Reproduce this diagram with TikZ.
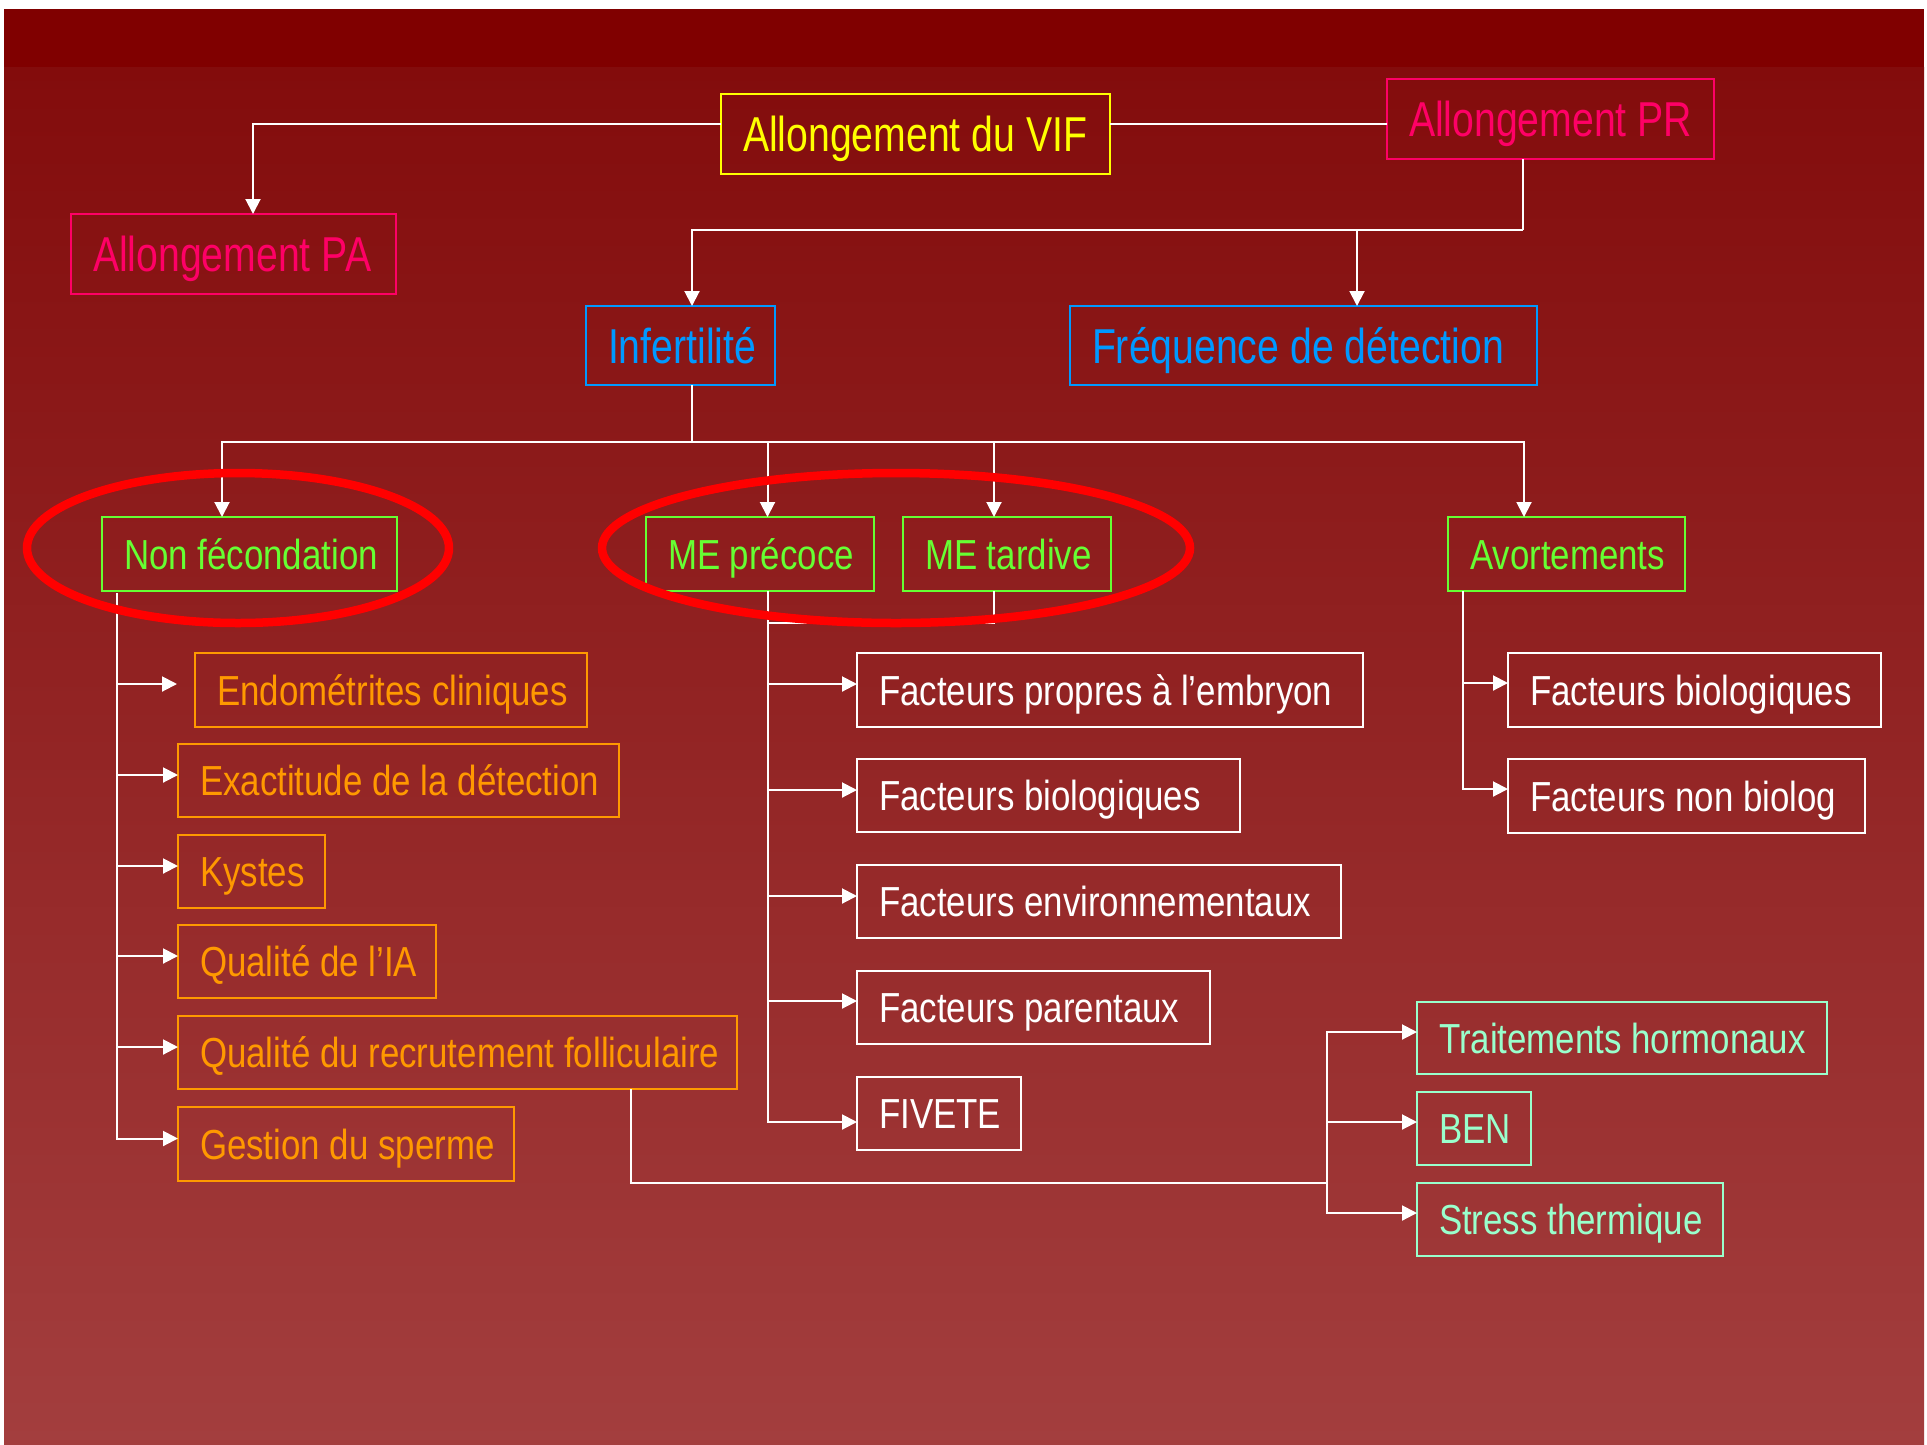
\documentclass[tikz,border=0pt]{standalone}
\usepackage{fontspec}
\setmainfont{Liberation Sans}[FakeStretch=0.83]
\newfontfamily\topfont{Liberation Sans}[FakeStretch=0.80]
\usetikzlibrary{arrows.meta}
\definecolor{bgband}{RGB}{128,0,0}
\definecolor{bgtop}{RGB}{131,12,12}
\definecolor{bgbot}{RGB}{163,62,62}
\definecolor{cyel}{RGB}{255,255,0}
\definecolor{cmag}{RGB}{255,0,102}
\definecolor{cblu}{RGB}{0,153,255}
\definecolor{cgrn}{RGB}{102,255,51}
\definecolor{corg}{RGB}{255,153,0}
\definecolor{cmnt}{RGB}{153,255,204}
\definecolor{cred}{RGB}{255,0,0}
\newcommand{\mybx}[2]{\makebox[#1pt][l]{#2}}
\tikzset{
  box/.style={draw, rectangle, line width=2pt, inner xsep=22pt, inner ysep=0pt,
    outer sep=0pt, anchor=north west, font=\fontsize{42}{50}\selectfont,
    text height=30pt, text depth=0pt, minimum height=73pt},
  topbox/.style={box, font=\topfont\fontsize{49}{58}\selectfont,
    text height=35pt, minimum height=79pt},
  yelbox/.style={topbox, draw=cyel, text=cyel},
  magbox/.style={topbox, draw=cmag, text=cmag},
  blubox/.style={topbox, draw=cblu, text=cblu},
  grnbox/.style={box, draw=cgrn, text=cgrn},
  orgbox/.style={box, draw=corg, text=corg},
  whtbox/.style={box, draw=white, text=white},
  mntbox/.style={box, draw=cmnt, text=cmnt},
  line/.style={draw=white, line width=2pt},
  arr/.style={line, -{Triangle[length=15pt,width=15pt]}},
  ring/.style={draw=cred, line width=8.5pt}
}
\begin{document}
\begin{tikzpicture}[x=1pt,y=-1pt]
\useasboundingbox (0,0) rectangle (1927,1444);
\fill[white] (0,0) rectangle (1927,1444);
\shade[top color=bgtop, bottom color=bgbot] (4,67) rectangle (1924,1444);
\fill[bgband] (4,9) rectangle (1924,67);

% top level
\node[yelbox, minimum height=80pt] (vif) at (721,94) {\mybx{345}{Allongement du VIF}};
\node[magbox, minimum height=80pt] (pr) at (1387,79) {\mybx{283}{Allongement PR}};
\node[magbox, minimum height=80pt] (pa) at (71,214) {\mybx{281}{Allongement PA}};
\node[blubox] (inf) at (586,306) {\mybx{145}{Infertilité}};
\node[blubox] (freq) at (1070,306) {\mybx{423}{Fréquence de détection}};

% level 3
\node[grnbox, minimum height=74pt] (nf) at (102,517) {\mybx{251}{Non fécondation}};
\node[grnbox, minimum height=74pt] (mep) at (646,517) {\mybx{184}{ME précoce}};
\node[grnbox, minimum height=74pt] (met) at (903,517) {\mybx{164}{ME tardive}};
\node[grnbox, minimum height=74pt] (avo) at (1448,517) {\mybx{193}{Avortements}};

% orange
\node[orgbox, minimum height=74pt] (endo) at (195,653) {\mybx{348}{Endométrites cliniques}};
\node[orgbox] (exa) at (178,744) {\mybx{397}{Exactitude de la détection}};
\node[orgbox] (kys) at (178,835) {\mybx{103}{Kystes}};
\node[orgbox] (qia) at (178,925) {\mybx{214}{Qualité de l’IA}};
\node[orgbox] (qrf) at (178,1016) {\mybx{515}{Qualité du recrutement folliculaire}};
\node[orgbox, minimum height=74pt] (ges) at (178,1107) {\mybx{292}{Gestion du sperme}};

% white
\node[whtbox, minimum height=74pt] (fpe) at (857,653) {\mybx{462}{Facteurs propres à l’embryon}};
\node[whtbox] (fbio) at (857,759) {\mybx{339}{Facteurs biologiques}};
\node[whtbox] (fenv) at (857,865) {\mybx{440}{Facteurs environnementaux}};
\node[whtbox] (fpar) at (857,971) {\mybx{309}{Facteurs parentaux}};
\node[whtbox] (fiv) at (857,1077) {\mybx{120}{FIVETE}};
\node[whtbox, minimum height=74pt] (afb) at (1508,653) {\mybx{329}{Facteurs biologiques}};
\node[whtbox, minimum height=74pt] (afnb) at (1508,759) {\mybx{313}{Facteurs non biolog}};

% mint
\node[mntbox, minimum height=72pt] (trh) at (1417,1002) {\mybx{366}{Traitements hormonaux}};
\node[mntbox] (ben) at (1417,1092) {\mybx{70}{BEN}};
\node[mntbox] (str) at (1417,1183) {\mybx{262}{Stress thermique}};

% connectors top
\coordinate (vifL) at ([yshift=10pt]vif.west);
\coordinate (vifR) at ([yshift=10pt]vif.east);
\coordinate (paT) at ([xshift=19.5pt]pa.north);
\draw[arr] (vifL) -| (paT);
\draw[line] (vifR) -- (vifR -| pr.west);

\coordinate (prB) at ([xshift=-27.5pt]pr.south);
\coordinate (j1) at (1523,230);
\coordinate (infT) at ([xshift=11.5pt]inf.north);
\coordinate (freqT) at ([xshift=53.5pt]freq.north);
\draw[line] (prB) -- (j1);
\draw[arr] (j1) -| (infT);
\draw[arr] (freqT |- j1) -- (freqT);

\coordinate (infB) at (infT |- inf.south);
\coordinate (j2) at (692,442);
\coordinate (nfT) at ([xshift=-27.5pt]nf.north);
\coordinate (mepT) at ([xshift=7.5pt]mep.north);
\coordinate (metT) at ([xshift=-13pt]met.north);
\coordinate (avoT) at ([xshift=-42.5pt]avo.north);
\draw[line] (infB) -- (j2);
\draw[arr] (j2) -| (nfT);
\draw[arr] (j2) -| (avoT);
\draw[arr] (mepT |- j2) -- (mepT);
\draw[arr] (metT |- j2) -- (metT);

% non fecondation branch
\coordinate (nfB) at ([xshift=-132.5pt,yshift=-2pt]nf.south);
\draw[arr] (nfB) |- ([xshift=-18pt,yshift=6pt]endo.west);
\draw[arr] (nfB) |- ([yshift=5.5pt]exa.west);
\draw[arr] (nfB) |- ([yshift=5.5pt]kys.west);
\draw[arr] (nfB) |- ([yshift=5.5pt]qia.west);
\draw[arr] (nfB) |- ([yshift=5.5pt]qrf.west);
\draw[arr] (nfB) |- ([yshift=5.5pt]ges.west);

% ME branch
\coordinate (mepB) at (mepT |- mep.south);
\coordinate (metB) at (metT |- met.south);
\coordinate (j3) at (767.5,623);
\draw[line] (metB) |- (j3);
\draw[arr] (mepB) |- ([yshift=6pt]fpe.west);
\draw[arr] (mepB) |- ([yshift=5.5pt]fbio.west);
\draw[arr] (mepB) |- ([yshift=5.5pt]fenv.west);
\draw[arr] (mepB) |- ([yshift=6.5pt]fpar.west);
\draw[arr] (mepB) |- ([yshift=-8.5pt]fiv.west);

% avortements branch
\coordinate (avoB) at ([xshift=-103.5pt]avo.south);
\draw[arr] (avoB) |- ([yshift=7pt]afb.west);
\draw[arr] (avoB) |- ([yshift=7pt]afnb.west);

% recrutement branch
\coordinate (qrfB) at ([xshift=173.5pt]qrf.south);
\coordinate (j4) at (1327,1183);
\draw[line] (qrfB) |- (j4);
\draw[arr] (j4) |- ([yshift=6pt]trh.west);
\draw[arr] (j4) |- ([yshift=6.5pt]str.west);
\coordinate (benT) at ([yshift=6.5pt]ben.west);
\draw[arr] (benT -| j4) -- (benT);

% red rings
\draw[ring] (238,548) ellipse [x radius=211, y radius=75];
\draw[ring] (896,548) ellipse [x radius=294, y radius=75];
\end{tikzpicture}
\end{document}
